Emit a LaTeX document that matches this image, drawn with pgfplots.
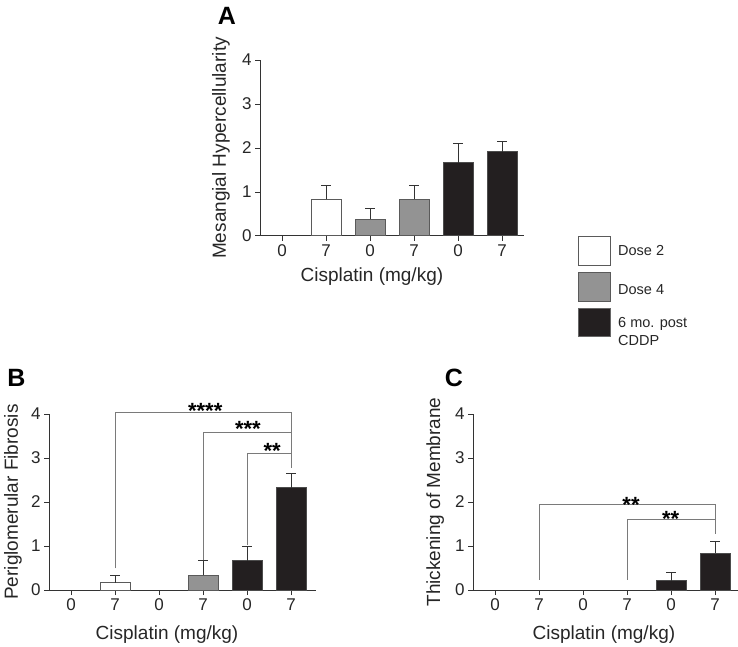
\documentclass[border=0pt]{standalone}
\usepackage{pgfplots}
\pgfplotsset{compat=1.18}
\usepackage{fontspec}
\setmainfont{Liberation Sans}

\definecolor{barblack}{HTML}{231F20}
\definecolor{bargray}{HTML}{939393}
\definecolor{edgegray}{HTML}{5A5A5A}
\definecolor{brk}{HTML}{7A7A7A}

\pgfplotsset{
  panel/.style={
    scale only axis, height=176pt,
    ymin=0, ymax=4, ytick={0,1,2,3,4},
    xtick={0,...,5}, xticklabels={0,7,0,7,0,7},
    axis x line*=bottom, axis y line*=left,
    tick align=outside, major tick length=5pt,
    axis line style={line width=1pt, black!80},
    every tick/.style={line width=1pt, black!80},
    tick label style={font=\fontsize{17}{20}\selectfont, text=black!85},
    /pgf/number format/assume math mode=true,
    label style={font=\fontsize{19}{22}\selectfont, text=black!85},
    clip=false,
  },
  bar/.style={ybar, bar width=30pt, bar shift=0pt, line width=1pt,
    error bars/y dir=plus, error bars/y explicit,
    error bars/error bar style={line width=1pt, black!80},
    error bars/error mark options={rotate=90, mark size=5pt, line width=1pt, black!80}},
}

\newcommand{\stars}{\fontsize{22}{24}\selectfont\bfseries}

\begin{document}
\begin{tikzpicture}[x=1pt,y=1pt]
\useasboundingbox (0,0) rectangle (738,646);

% ---- panel A ----
\begin{axis}[panel, at={(260pt,410pt)}, anchor=south west, width=264pt,
    xmin=-0.5, xmax=5.5,
    ylabel={Mesangial Hypercellularity},
    xlabel={Cisplatin (mg/kg)},
    ylabel style={at={(axis description cs:-0.148,0.5)}, anchor=center},
    xlabel style={at={(axis description cs:0.424,-0.233)}, anchor=center}]
  \addplot[bar, fill=white, draw=edgegray] coordinates {(1,0.83) +- (0,0.32)};
  \addplot[bar, fill=bargray, draw=edgegray] coordinates {(2,0.38) +- (0,0.24) (3,0.83) +- (0,0.32)};
  \addplot[bar, fill=barblack, draw=black!70] coordinates {(4,1.67) +- (0,0.43) (5,1.92) +- (0,0.23)};
\end{axis}

% ---- panel B ----
\begin{axis}[panel, at={(49pt,56pt)}, anchor=south west, width=267pt,
    xmin=-0.5, xmax=5.568,
    ylabel={Periglomerular Fibrosis},
    xlabel={Cisplatin (mg/kg)},
    ylabel style={at={(axis description cs:-0.135,0.5)}, anchor=center},
    xlabel style={at={(axis description cs:0.442,-0.256)}, anchor=center}]
  \addplot[bar, fill=white, draw=edgegray] coordinates {(1,0.17) +- (0,0.15)};
  \addplot[bar, fill=bargray, draw=edgegray] coordinates {(3,0.33) +- (0,0.33)};
  \addplot[bar, fill=barblack, draw=black!70] coordinates {(4,0.67) +- (0,0.33) (5,2.32) +- (0,0.33)};
  \draw[brk, line width=1pt] (axis cs:1,0.49) -- (axis cs:1,4.04) -- (axis cs:5,4.04) -- (axis cs:5,2.78);
  \draw[brk, line width=1pt] (axis cs:3,0.68) -- (axis cs:3,3.58) -- (axis cs:5,3.58);
  \draw[brk, line width=1pt] (axis cs:4,1.02) -- (axis cs:4,3.11) -- (axis cs:5,3.11);
  \node[anchor=base, font=\stars] at (axis cs:3.05,3.90) {****};
  \node[anchor=base, font=\stars] at (axis cs:4.02,3.48) {***};
  \node[anchor=base, font=\stars] at (axis cs:4.57,2.99) {**};
\end{axis}

% ---- panel C ----
\begin{axis}[panel, at={(473pt,56pt)}, anchor=south west, width=265pt,
    xmin=-0.5, xmax=5.52,
    ylabel={Thickening of Membrane},
    xlabel={Cisplatin (mg/kg)},
    ylabel style={at={(axis description cs:-0.143,0.5)}, anchor=center},
    xlabel style={at={(axis description cs:0.494,-0.256)}, anchor=center}]
  \addplot[bar, fill=barblack, draw=black!70] coordinates {(4,0.21) +- (0,0.19) (5,0.84) +- (0,0.26)};
  \draw[brk, line width=1pt] (axis cs:1,0.23) -- (axis cs:1,1.95) -- (axis cs:5,1.95) -- (axis cs:5,1.27);
  \draw[brk, line width=1pt] (axis cs:3,0.23) -- (axis cs:3,1.60) -- (axis cs:5,1.60);
  \node[anchor=base, font=\stars] at (axis cs:3.09,1.76) {**};
  \node[anchor=base, font=\stars] at (axis cs:3.99,1.45) {**};
\end{axis}

% ---- panel letters ----
\node[font=\fontsize{25}{28}\selectfont\bfseries] at (227,630) {A};
\node[font=\fontsize{25}{28}\selectfont\bfseries] at (16.5,268) {B};
\node[font=\fontsize{25}{28}\selectfont\bfseries] at (454,268) {C};

% ---- legend ----
\begin{scope}[line width=1pt]
  \draw[edgegray, fill=white] (578,380) rectangle (610,409);
  \draw[edgegray, fill=bargray] (578,345) rectangle (610,373);
  \draw[black!60, fill=barblack] (578,310) rectangle (610,338);
\end{scope}
\begin{scope}[every node/.style={anchor=west, font=\fontsize{14.5}{18}\selectfont, text=black!85, inner sep=0pt}]
  \node at (618,395) {Dose 2};
  \node at (618,356) {Dose 4};
  \node[align=left] at (618,314) {6 mo. post\\CDDP};
\end{scope}
\end{tikzpicture}
\end{document}
